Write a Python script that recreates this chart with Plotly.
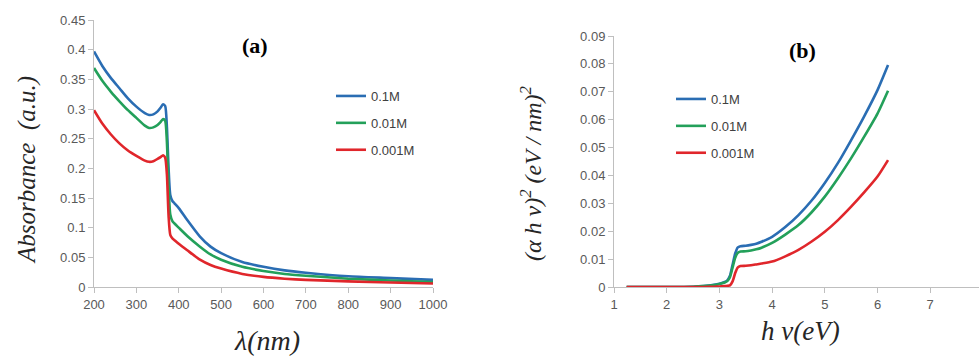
import plotly.graph_objects as go

# ---------- panel (a): absorbance vs wavelength ----------
wavelength_nm = [200, 220, 240, 260, 280, 300, 320, 330, 340, 350, 357, 363, 368,
                 372, 376, 380, 385, 390, 400, 420, 450, 475, 500, 550, 600, 650,
                 700, 800, 900, 1000]
abs_01M = [0.397, 0.372, 0.352, 0.335, 0.318, 0.304, 0.293, 0.290, 0.291, 0.296,
           0.302, 0.308, 0.305, 0.270, 0.200, 0.155, 0.145, 0.141, 0.133, 0.113,
           0.085, 0.068, 0.057, 0.042, 0.034, 0.028, 0.024, 0.018, 0.015, 0.012]
abs_001M = [0.369, 0.347, 0.329, 0.313, 0.298, 0.285, 0.272, 0.268, 0.269, 0.273,
            0.278, 0.283, 0.280, 0.245, 0.170, 0.122, 0.111, 0.107, 0.100, 0.086,
            0.068, 0.055, 0.046, 0.034, 0.027, 0.022, 0.019, 0.014, 0.011, 0.0085]
abs_0001M = [0.298, 0.275, 0.257, 0.242, 0.230, 0.221, 0.213, 0.211, 0.212, 0.216,
             0.219, 0.222, 0.218, 0.190, 0.120, 0.088, 0.082, 0.079, 0.073, 0.062,
             0.046, 0.037, 0.031, 0.022, 0.017, 0.014, 0.012, 0.0095, 0.0075, 0.006]

# ---------- panel (b): (alpha h nu)^2 vs photon energy ----------
energy_eV = [1.24, 1.5, 2.0, 2.5, 2.7, 2.9, 3.0, 3.1, 3.15, 3.2, 3.25, 3.3, 3.35,
             3.4, 3.5, 3.6, 3.7, 3.8, 4.0, 4.25, 4.5, 4.75, 5.0, 5.25, 5.5, 5.75,
             6.0, 6.2]
tauc_01M = [0, 0, 0, 0.0001, 0.0003, 0.0008, 0.0012, 0.0018, 0.0024, 0.004, 0.008,
            0.012, 0.0142, 0.0146, 0.0148, 0.0151, 0.0155, 0.0162, 0.018, 0.0215,
            0.0258, 0.031, 0.0373, 0.0445, 0.0527, 0.0613, 0.0706, 0.0796]
tauc_001M = [0, 0, 0, 0.0001, 0.0003, 0.0007, 0.0011, 0.0016, 0.0021, 0.0035, 0.007,
             0.0105, 0.0123, 0.0127, 0.0128, 0.0131, 0.0135, 0.0141, 0.0158, 0.0188,
             0.0222, 0.0268, 0.0324, 0.039, 0.0462, 0.0540, 0.0622, 0.0704]
tauc_0001M = [0, 0, 0, 0, 0, 0.0001, 0.0002, 0.0003, 0.0004, 0.0006, 0.002, 0.005,
              0.007, 0.0075, 0.0076, 0.0078, 0.0081, 0.0084, 0.0091, 0.011, 0.0133,
              0.0163, 0.0198, 0.024, 0.0288, 0.0340, 0.0396, 0.0455]

series_names = ["0.1M", "0.01M", "0.001M"]
colors = ["#2a6db3", "#23a05a", "#e0262b"]

fig = go.Figure()
for name, col, ys in zip(series_names, colors, [abs_01M, abs_001M, abs_0001M]):
    fig.add_trace(go.Scatter(x=wavelength_nm, y=ys, mode="lines", name=name,
                             line=dict(color=col, width=2.6, shape="spline", smoothing=0.6),
                             xaxis="x", yaxis="y", legend="legend",
                             legendgroup="a" + name))
for name, col, ys in zip(series_names, colors, [tauc_01M, tauc_001M, tauc_0001M]):
    fig.add_trace(go.Scatter(x=energy_eV, y=ys, mode="lines", name=name,
                             line=dict(color=col, width=2.6, shape="spline", smoothing=0.6),
                             xaxis="x2", yaxis="y2", legend="legend2",
                             legendgroup="b" + name))

W, H = 979, 356
tickfont = dict(family="Liberation Sans", size=13, color="#595959")
axis_common = dict(showline=True, linecolor="#bfbfbf", linewidth=1, ticks="outside",
                   ticklen=5, tickcolor="#bfbfbf", showgrid=False, zeroline=False,
                   tickfont=tickfont, automargin=False)

y0 = (H - 287) / H
fig.update_layout(
    width=W, height=H, margin=dict(l=0, r=0, t=0, b=0, autoexpand=False),
    paper_bgcolor="white", plot_bgcolor="white",
    xaxis=dict(domain=[94 / W, 433 / W], range=[200, 1000], dtick=100, anchor="y",
               **axis_common),
    yaxis=dict(domain=[y0, (H - 20) / H], range=[0, 0.45], dtick=0.05, anchor="x",
               **axis_common),
    xaxis2=dict(domain=[614 / W, 1.0], range=[1, 1 + 365 / 52.7], dtick=1, anchor="y2",
                **axis_common),
    yaxis2=dict(domain=[y0, (H - 36) / H], range=[0, 0.09], dtick=0.01, anchor="x2",
                **axis_common),
    legend=dict(x=331 / W, y=(H - 81) / H, xanchor="left", yanchor="top",
                bgcolor="rgba(0,0,0,0)", tracegroupgap=7,
                font=dict(family="Liberation Sans", size=13, color="#404040")),
    legend2=dict(x=671 / W, y=(H - 84) / H, xanchor="left", yanchor="top",
                 bgcolor="rgba(0,0,0,0)", tracegroupgap=7,
                 font=dict(family="Liberation Sans", size=13, color="#404040")),
)

serif = "Liberation Serif"


def label(cx, cy, text, size, color="#262626", angle=0):
    fig.add_annotation(x=cx / W, y=(H - cy) / H, xref="paper", yref="paper",
                       xanchor="center", yanchor="middle", text=text, textangle=angle,
                       showarrow=False, font=dict(family=serif, size=size, color=color))


label(255, 45, "<b>(a)</b>", 22, "black")
label(802, 50, "<b>(b)</b>", 22, "black")
label(27, 170, "<i>Absorbance  (a.u.)</i>", 25, angle=-90)
label(267, 340, "<i>λ(nm)</i>", 28)
label(531, 173, "<i>(α h ν)<sup>2</sup> (eV / nm)<sup>2</sup></i>", 24, angle=-90)
label(800, 331, "<i>h ν(eV)</i>", 27)

fig.write_html("out.html", config={"displayModeBar": False},
               post_script="document.body.style.margin='0';document.body.style.overflow='hidden';")
